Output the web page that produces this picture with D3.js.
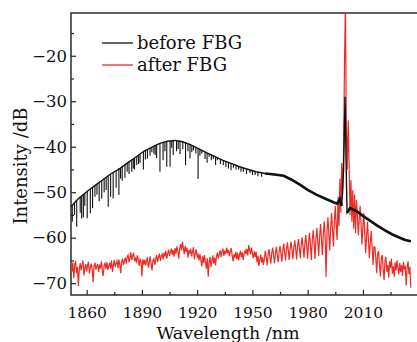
<!DOCTYPE html>
<html>
<head>
<meta charset="utf-8">
<script src="https://cdn.jsdelivr.net/npm/d3@7"></script>
<style>
  body { margin: 0; background: #fff; }
  svg text { font-family: "DejaVu Serif", serif; fill: #111; }
</style>
</head>
<body>
<div id="container"></div>
<script>
/* CONSTANTS AND GLOBALS */
const width = 417;
const height = 342;
const margin = { top: 13, bottom: 47, left: 71, right: -3 };

/* DATA */
const xTicks = [1860, 1890, 1920, 1950, 1980, 2010];
const xMinor = [1875, 1905, 1935, 1965, 1995, 2025];
const yTicks = [-70, -60, -50, -40, -30, -20];
const yMinor = [-65, -55, -45, -35, -25, -15];
const seriesNames = ["before FBG", "after FBG"];

// before FBG: smooth envelope [wavelength, dB]
const beforeEnvelope = [
  [1851.5, -53.2], [1855, -51.6], [1860, -49.9], [1865, -48.4], [1869, -47.2],
  [1873, -46.0], [1878, -44.8], [1882, -43.6], [1887, -42.2], [1891, -41.0],
  [1896, -40.0], [1900, -39.2], [1904, -38.8], [1908, -38.6], [1912, -38.9],
  [1916, -39.5], [1920.7, -40.4], [1925, -41.3], [1929.7, -42.2], [1934, -43.0],
  [1938.8, -43.7], [1943, -44.4], [1947.8, -45.0], [1952, -45.5], [1957, -45.9],
  [1962, -46.1], [1967, -46.4], [1971, -47.2], [1976, -48.4], [1980, -49.5],
  [1985, -50.6], [1990, -51.5], [1994, -52.2], [1996, -52.5], [1997.5, -51.5],
  [1998.5, -53.0], [1999.5, -45.0], [2000.3, -29.0], [2000.9, -44.0], [2001.4, -54.5],
  [2003, -53.5], [2006.7, -54.2], [2010, -55.2], [2014, -56.3], [2018, -57.4],
  [2022, -58.4], [2026, -59.3], [2030, -60.0], [2033, -60.5], [2036, -60.8]
];

// before FBG: narrow dips [wavelength, top dB, bottom dB]
const beforeDips = [
  [1852.2, -52.9, -56.5], [1853.4, -52.3, -55.0], [1854.6, -51.8, -57.6], [1856.5, -51.0, -54.5],
  [1857.3, -50.8, -55.8], [1858.2, -50.5, -55.5], [1859.0, -50.2, -53.0], [1860.3, -49.8, -55.7],
  [1862.0, -49.3, -54.6], [1863.2, -48.9, -53.5], [1864.5, -48.6, -51.0], [1865.6, -48.2, -50.5],
  [1866.8, -47.9, -52.0], [1868.2, -47.5, -51.4], [1869.5, -47.0, -50.0], [1870.6, -46.7, -49.5],
  [1871.7, -46.4, -53.2], [1873.0, -46.0, -51.0], [1874.4, -45.6, -51.4], [1876.0, -45.3, -49.0],
  [1877.5, -44.7, -50.6], [1878.4, -44.7, -47.0], [1879.3, -44.2, -47.5], [1880.8, -43.8, -46.8],
  [1882.0, -43.6, -45.5], [1883.0, -43.3, -46.0], [1884.5, -42.9, -45.5], [1885.3, -42.7, -44.8],
  [1886.0, -42.5, -45.0], [1887.2, -42.1, -44.0], [1888.2, -41.9, -43.8], [1889.0, -41.6, -43.5],
  [1890.8, -41.1, -45.0], [1891.9, -40.8, -42.8], [1893.0, -40.6, -42.6], [1894.4, -40.3, -42.0],
  [1895.4, -40.1, -41.2], [1896.5, -39.9, -41.5], [1897.2, -39.8, -41.8], [1898.0, -39.6, -42.5],
  [1899.8, -39.2, -45.5], [1901.5, -39.1, -43.0], [1902.5, -39.0, -41.0], [1903.5, -38.9, -44.4],
  [1905.3, -38.7, -44.4], [1906.2, -38.7, -40.2], [1907.0, -38.6, -41.8], [1908.8, -38.6, -41.0],
  [1909.7, -38.7, -40.5], [1910.7, -38.7, -41.6], [1912.2, -38.9, -40.5], [1913.7, -39.0, -44.0],
  [1915.0, -39.4, -41.0], [1916.1, -39.5, -42.6], [1917.1, -39.7, -41.2], [1918.0, -39.8, -40.8],
  [1919.3, -40.1, -41.5], [1920.5, -40.4, -47.1], [1921.5, -40.6, -42.0], [1922.5, -40.8, -41.5],
  [1924.3, -41.2, -42.7], [1925.4, -41.4, -43.5], [1926.5, -41.6, -42.2], [1927.7, -41.8, -43.0],
  [1928.8, -42.0, -42.7], [1930.0, -42.3, -44.0], [1931.0, -42.5, -43.0], [1932.6, -42.7, -43.8],
  [1934.2, -43.0, -44.0], [1935.6, -43.2, -44.5], [1937.0, -43.5, -44.8], [1938.4, -43.7, -45.2],
  [1939.7, -43.8, -44.6], [1941.1, -44.1, -45.0], [1942.5, -44.3, -45.0], [1943.8, -44.5, -45.5],
  [1945.1, -44.7, -45.5], [1946.8, -44.9, -46.0], [1948.7, -45.1, -45.8], [1950.0, -45.3, -46.2],
  [1951.5, -45.5, -46.2], [1953.0, -45.6, -46.5], [1955.0, -45.7, -46.6]
];

// after FBG: sampled every 0.5 nm from 1851.5 nm
const afterStart = 1851.5;
const afterStep = 0.5;
const afterValues = [
  -66.2, -67.5, -65.4, -68.9, -66.0, -65.1, -67.8, -66.4, -70.6, -66.9,
  -65.6, -67.2, -66.1, -65.0, -68.3, -66.7, -65.8, -67.4, -66.0, -65.3,
  -67.9, -66.4, -65.7, -66.9, -69.8, -66.2, -65.5, -67.0, -66.3, -65.8,
  -67.6, -65.9, -66.8, -65.2, -67.3, -68.4, -66.0, -65.6, -66.9, -65.4,
  -67.1, -66.2, -65.5, -66.8, -65.0, -67.5, -66.1, -64.9, -66.4, -65.6,
  -65.1, -66.7, -64.8, -65.9, -67.8, -65.3, -64.6, -66.0, -65.2, -64.4,
  -65.7, -64.2, -63.8, -65.4, -64.6, -63.2, -64.9, -64.0, -63.3, -65.1,
  -64.4, -65.6, -63.9, -64.8, -66.2, -64.6, -65.3, -68.5, -64.7, -65.9,
  -64.8, -66.1, -65.2, -64.3, -66.6, -65.5, -64.1, -65.8, -67.2, -65.0,
  -64.6, -66.0, -64.9, -63.8, -65.4, -64.2, -63.5, -65.1, -64.0, -63.6,
  -64.8, -63.3, -64.1, -62.9, -64.6, -63.5, -62.6, -64.0, -63.1, -62.4,
  -63.8, -62.7, -64.2, -62.3, -63.5, -61.9, -63.0, -64.6, -62.5, -61.4,
  -62.8, -60.9, -62.3, -63.6, -61.8, -63.1, -62.2, -64.4, -62.7, -63.5,
  -62.4, -64.1, -63.0, -62.1, -64.8, -63.4, -62.6, -64.2, -63.7, -65.0,
  -63.6, -64.9, -66.3, -64.1, -65.6, -63.8, -65.2, -66.8, -64.5, -68.6,
  -65.3, -64.2, -66.5, -65.0, -63.9, -65.7, -64.4, -66.1, -64.0, -63.3,
  -64.6, -63.5, -62.8, -64.3, -63.0, -62.4, -64.0, -62.9, -63.6, -62.2,
  -63.4, -62.7, -64.1, -63.0, -62.3, -63.9, -65.2, -63.6, -64.4, -63.1,
  -64.7, -63.3, -65.0, -63.8, -62.9, -64.3, -63.2, -64.9, -63.5, -62.8,
  -63.6, -62.5, -63.9, -61.6, -62.8, -63.7, -62.2, -63.4, -64.5, -63.0,
  -64.2, -63.1, -65.4, -64.0, -66.2, -64.8, -63.7, -65.5, -64.3, -66.0,
  -64.6, -62.9, -64.2, -66.1, -63.8, -62.5, -64.0, -65.7, -63.4, -62.2,
  -63.9, -65.6, -63.5, -62.0, -63.8, -65.4, -63.1, -61.8, -63.5, -65.3,
  -62.8, -61.3, -63.3, -65.0, -62.6, -61.0, -62.9, -64.9, -62.4, -60.9,
  -62.6, -64.7, -62.1, -60.6, -62.5, -64.8, -61.9, -60.3, -62.3, -64.5,
  -61.6, -59.9, -62.0, -64.4, -61.3, -59.4, -61.8, -64.6, -61.0, -58.9,
  -61.5, -64.9, -60.6, -58.3, -61.2, -64.7, -60.2, -57.8, -60.9, -64.0,
  -59.7, -57.0, -60.4, -63.8, -59.2, -56.4, -60.0, -68.6, -58.8, -55.5,
  -59.2, -62.8, -57.6, -54.6, -58.3, -62.0, -56.5, -53.0, -57.4, -60.5,
  -51.0, -57.5, -47.0, -54.5, -43.6, -50.5, -41.0, -22.0, -8.0, -36.0,
  -45.0, -34.2, -43.5, -55.0, -47.4, -56.5, -49.5, -58.0, -50.5, -59.0,
  -51.7, -55.0, -59.5, -56.0, -53.0, -57.0, -61.5, -57.5, -54.6, -59.0,
  -63.4, -59.5, -56.5, -60.5, -64.5, -61.0, -58.5, -62.0, -66.0, -62.0,
  -62.0, -64.5, -67.8, -63.5, -63.0, -66.0, -68.5, -64.5, -63.8, -67.0,
  -69.3, -65.0, -64.2, -67.5, -66.0, -68.8, -65.2, -66.6, -64.6, -67.9,
  -66.3, -68.6, -65.4, -67.2, -65.0, -66.8, -68.1, -65.6, -67.5, -66.0,
  -68.4, -65.3, -67.0, -66.2, -70.5, -66.6, -65.2, -68.0, -66.4, -71.0
];

const afterData = afterValues.map((v, i) => [afterStart + i * afterStep, v]);

/* SCALES */
const xScale = d3.scaleLinear()
  .domain([1851.5, 2041])
  .range([margin.left, width - margin.right]);

const yScale = d3.scaleLinear()
  .domain([-72.6, -10.6])
  .range([height - margin.bottom, margin.top]);

/* HTML ELEMENTS */
const svg = d3.select("#container")
  .append("svg")
  .attr("width", width)
  .attr("height", height);

svg.append("clipPath")
  .attr("id", "plot-clip")
  .append("rect")
  .attr("x", margin.left)
  .attr("y", margin.top)
  .attr("width", width - margin.right - margin.left)
  .attr("height", height - margin.bottom - margin.top);

const minus = d => d3.format("d")(d).replace("-", "\u2212");

// axes, ticks point inward
const yAxis = svg.append("g")
  .attr("transform", `translate(${margin.left},0)`)
  .call(d3.axisLeft(yScale).tickValues(yTicks).tickSize(-5).tickPadding(4).tickFormat(minus));
svg.append("g")
  .attr("transform", `translate(${margin.left},0)`)
  .call(d3.axisLeft(yScale).tickValues(yMinor).tickSize(-3).tickFormat(""));

const xAxis = svg.append("g")
  .attr("transform", `translate(0,${height - margin.bottom})`)
  .call(d3.axisBottom(xScale).tickValues(xTicks).tickSize(-5).tickFormat(d3.format("d")));
svg.append("g")
  .attr("transform", `translate(0,${height - margin.bottom})`)
  .call(d3.axisBottom(xScale).tickValues(xMinor).tickSize(-3).tickFormat(""));

svg.selectAll(".domain").remove();
svg.selectAll(".tick line").attr("stroke", "#222").attr("stroke-width", 1.2);
yAxis.selectAll("text").attr("font-size", 16.5).attr("font-family", null);
xAxis.selectAll("text").attr("font-size", 15.5).attr("font-family", null)
  .attr("y", 23).attr("dy", 0);

// frame
svg.append("path")
  .attr("d", `M${width - margin.right},${margin.top}H${margin.left}V${height - margin.bottom}H${width - margin.right}`)
  .attr("fill", "none")
  .attr("stroke", "#2a2a2a")
  .attr("stroke-width", 1.5);

// lines
const line = d3.line()
  .x(d => xScale(d[0]))
  .y(d => yScale(d[1]));

const plot = svg.append("g").attr("clip-path", "url(#plot-clip)");

plot.append("path")
  .datum(afterData)
  .attr("d", line)
  .attr("fill", "none")
  .attr("stroke", "#ee2a24")
  .attr("stroke-width", 1.2);

plot.append("path")
  .datum(beforeEnvelope)
  .attr("d", line)
  .attr("fill", "none")
  .attr("stroke", "#111")
  .attr("stroke-width", 1.4);

// noisy tail of the before FBG trace looks thicker
[beforeEnvelope.filter(d => d[0] >= 1957 && d[0] <= 1998.5),
 beforeEnvelope.filter(d => d[0] >= 2001.4)].forEach(part => {
  plot.append("path")
    .datum(part)
    .attr("d", line)
    .attr("fill", "none")
    .attr("stroke", "#111")
    .attr("stroke-width", 2.6);
});

plot.selectAll(".dip")
  .data(beforeDips)
  .join("line")
  .attr("class", "dip")
  .attr("x1", d => xScale(d[0]))
  .attr("x2", d => xScale(d[0]))
  .attr("y1", d => yScale(d[1]))
  .attr("y2", d => yScale(d[2]))
  .attr("stroke", "#111")
  .attr("stroke-width", 1.1);

// legend
const legendColors = ["#111", "#ee2a24"];
const legend = svg.append("g");
legend.selectAll("line")
  .data(seriesNames)
  .join("line")
  .attr("x1", 102).attr("x2", 133)
  .attr("y1", (d, i) => 43 + i * 22)
  .attr("y2", (d, i) => 43 + i * 22)
  .attr("stroke", (d, i) => legendColors[i])
  .attr("stroke-width", 1.3);
legend.selectAll("text")
  .data(seriesNames)
  .join("text")
  .attr("x", 137)
  .attr("y", (d, i) => 49 + i * 22)
  .attr("font-size", 18)
  .text(d => d);

// axis titles
svg.append("text")
  .attr("transform", "translate(27,166) rotate(-90)")
  .attr("text-anchor", "middle")
  .attr("font-size", 18)
  .text("Intensity /dB");

svg.append("text")
  .attr("x", 228)
  .attr("y", 339)
  .attr("text-anchor", "middle")
  .attr("font-size", 17.5)
  .text("Wavelength /nm");
</script>
</body>
</html>
